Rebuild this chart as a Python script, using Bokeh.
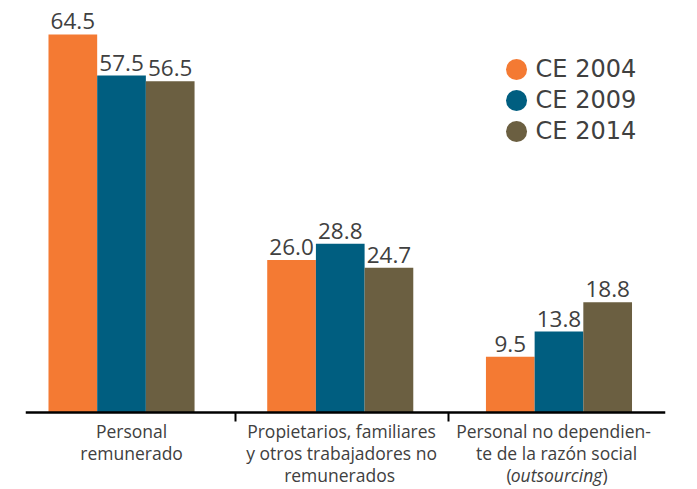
from bokeh.plotting import figure
from bokeh.models import Range1d, LinearAxis, FixedTicker, ColumnDataSource
from bokeh.core.properties import value
from bokeh.embed import file_html
from bokeh.resources import INLINE

# ---- data ----
categories = [
    ["Personal", "remunerado"],
    ["Propietarios, familiares", "y otros trabajadores no", "remunerados"],
    ["Personal no dependien-", "te de la razón social", "(outsourcing)"],
]
series = ["CE 2004", "CE 2009", "CE 2014"]
ce2004 = [64.5, 26.0, 9.5]
ce2009 = [57.5, 28.8, 13.8]
ce2014 = [56.5, 24.7, 18.8]
values_by_series = [ce2004, ce2009, ce2014]
colors = ["#F47A33", "#005E80", "#6B5F41"]

FONT = "Open Sans"
TXT = "#404040"
W, H = 697, 489
BW = 0.2226

p = figure(width=W, height=H, output_backend="svg", toolbar_location=None,
           x_range=Range1d(-0.439, 2.487), y_range=Range1d(-13.14, 70.3),
           x_axis_type=None, y_axis_type=None,
           min_border_left=25, min_border_right=32, min_border_top=0,
           min_border_bottom=0)
p.outline_line_color = None
p.xgrid.visible = False
p.ygrid.visible = False
p.background_fill_color = "white"
p.border_fill_color = "white"

xaxis = LinearAxis(ticker=FixedTicker(ticks=[0.521, 1.495]),
                   fixed_location=0,
                   major_label_overrides={0.521: "", 1.495: ""},
                   major_label_text_font_size="1px",
                   axis_line_width=2.5, axis_line_color="black",
                   major_tick_out=9, major_tick_in=0,
                   major_tick_line_width=2, major_tick_line_color="black",
                   minor_tick_line_color=None)
p.add_layout(xaxis, "below")

offsets = [-BW, 0.0, BW]
for vals, off, col in zip(values_by_series, offsets, colors):
    src = ColumnDataSource(dict(
        x=[i + off for i in range(len(vals))],
        top=vals,
        lbl=["%.1f" % v for v in vals],
    ))
    p.vbar(x="x", top="top", width=BW, source=src, fill_color=col,
           line_color=None)
    p.text(x="x", y="top", text="lbl", source=src, text_align="center",
           text_baseline="bottom", y_offset=-5,
           text_font=value(FONT), text_font_size="22.5px", text_color=TXT)

# legend (manual, circles + text)
leg_y = [58.53, 53.24, 47.95]
lsrc = ColumnDataSource(dict(x=[1.806] * 3, y=leg_y, c=colors, t=series))
p.scatter(x="x", y="y", source=lsrc, size=21, marker="circle",
          fill_color="c", line_color=None)
p.text(x=1.893, y="y", text="t", source=lsrc, text_baseline="middle",
       text_align="left", text_font=value("DejaVu Sans"),
       text_font_size="24px", text_color=TXT)

# category labels
line_y = [-3.24, -6.99, -10.75]
label_x = [[0.046, 0.046], [1.006, 1.006, 0.997], [1.975, 1.989, 1.989]]
for lines, xs in zip(categories, label_x):
    for li, (t, lx) in enumerate(zip(lines, xs)):
        kw = dict(text_baseline="middle", text_font=value(FONT),
                  text_font_size="17.5px", text_color=TXT)
        if t.startswith("(") and t.endswith(")"):
            p.text(x=[lx], y=[line_y[li]], text=[t[1:-1]], text_align="center",
                   text_font_style="italic", **kw)
            p.text(x=[lx], y=[line_y[li]], text=["("], text_align="right",
                   x_offset=-45, **kw)
            p.text(x=[lx], y=[line_y[li]], text=[")"], text_align="left",
                   x_offset=46, **kw)
        else:
            p.text(x=[lx], y=[line_y[li]], text=[t], text_align="center", **kw)

open("out.html", "w").write(file_html(p, INLINE))
